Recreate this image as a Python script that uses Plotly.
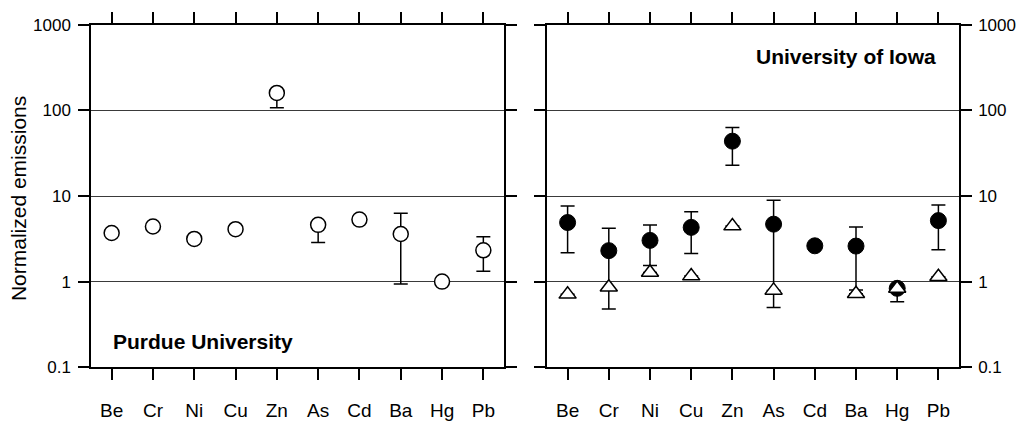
import numpy as np
import plotly.graph_objects as go

elements = ["Be", "Cr", "Ni", "Cu", "Zn", "As", "Cd", "Ba", "Hg", "Pb"]

# Purdue University (open circles)
purdue_val = [3.7, 4.4, 3.15, 4.1, 160, 4.6, 5.3, 3.6, 1.0, 2.32]
purdue_hi = [None, None, None, None, None, None, None, 6.3, None, 3.35]
purdue_lo = [None, None, None, None, 107, 2.87, None, 0.94, None, 1.32]

# University of Iowa (filled circles)
iowa_c_val = [4.9, 2.3, 3.03, 4.3, 43.7, 4.69, 2.62, 2.6, 0.835, 5.16]
iowa_c_hi = [7.65, 4.2, 4.57, 6.56, 63, 8.93, None, 4.34, None, 7.85]
iowa_c_lo = [2.17, None, 1.54, 2.13, 22.8, 0.50, None, 0.80, 0.58, 2.36]

# University of Iowa (open triangles)
iowa_t_val = [0.71, 0.86, 1.28, 1.16, 4.45, 0.79, None, 0.72, 0.83, 1.14]
iowa_t_hi = [None, 2.3, None, None, None, None, None, None, None, None]
iowa_t_lo = [None, 0.48, None, None, None, None, None, None, None, None]

ytick_vals = [0.1, 1, 10, 100, 1000]
ytick_text = ["0.1", "1", "10", "100", "1000"]


def errs(val, hi, lo, hide_empty):
    plus, minus = [], []
    for v, h, l in zip(val, hi, lo):
        if v is None or (hide_empty and h is None and l is None):
            plus.append(np.nan)
            minus.append(np.nan)
            continue
        plus.append(0.0 if h is None else h - v)
        minus.append(0.0 if l is None else v - l)
    return plus, minus


def yv(val):
    return [np.nan if v is None else v for v in val]


FONT = "Liberation Sans, Arial, Helvetica, sans-serif"
fig = go.Figure()

p_plus, p_minus = errs(purdue_val, purdue_hi, purdue_lo, False)
fig.add_trace(go.Scatter(
    x=elements, y=yv(purdue_val), mode="markers", xaxis="x", yaxis="y",
    marker=dict(symbol="circle", size=15, color="white",
                line=dict(color="black", width=1.5)),
    error_y=dict(type="data", symmetric=False, array=p_plus, arrayminus=p_minus,
                 color="black", thickness=1.5, width=7),
    showlegend=False))

c_plus, c_minus = errs(iowa_c_val, iowa_c_hi, iowa_c_lo, False)
fig.add_trace(go.Scatter(
    x=elements, y=yv(iowa_c_val), mode="markers", xaxis="x2", yaxis="y2",
    marker=dict(symbol="circle", size=16, color="black",
                line=dict(color="black", width=1)),
    error_y=dict(type="data", symmetric=False, array=c_plus, arrayminus=c_minus,
                 color="black", thickness=1.5, width=7),
    showlegend=False))

t_plus, t_minus = errs(iowa_t_val, iowa_t_hi, iowa_t_lo, True)
fig.add_trace(go.Scatter(
    x=elements, y=yv(iowa_t_val), mode="markers", xaxis="x2", yaxis="y2",
    marker=dict(symbol="triangle-up", size=15, color="white",
                line=dict(color="black", width=1.5)),
    error_y=dict(type="data", symmetric=False, array=t_plus, arrayminus=t_minus,
                 color="black", thickness=1.5, width=7),
    showlegend=False))

W, H = 1028, 425
ydom = [1 - 375 / H, 1 - 16.5 / H]

xcommon = dict(type="category", categoryorder="array", categoryarray=elements,
               range=[-0.5, 9.5], showline=True, linecolor="black", linewidth=1.5,
               mirror="ticks", ticks="outside", ticklen=11, tickwidth=1.5,
               tickcolor="black", showgrid=False, zeroline=False,
               ticklabelstandoff=14,
               tickfont=dict(family=FONT, size=19, color="black"))
ycommon = dict(type="log", range=[-1, 3], tickvals=ytick_vals, ticktext=ytick_text,
               showline=True, linecolor="black", linewidth=1.5, mirror="ticks",
               ticks="outside", ticklen=11, tickwidth=1.5, tickcolor="black",
               showgrid=True, gridcolor="#3a3a3a", gridwidth=1, zeroline=False,
               tickfont=dict(family=FONT, size=17, color="black"))

fig.update_layout(
    width=W, height=H, margin=dict(l=0, r=0, t=0, b=0),
    paper_bgcolor="white", plot_bgcolor="white",
    xaxis=dict(domain=[91 / W, 504 / W], anchor="y", **xcommon),
    yaxis=dict(domain=ydom, anchor="x", side="left", ticklabelstandoff=4, **ycommon),
    xaxis2=dict(domain=[547 / W, 959 / W], anchor="y2", **xcommon),
    yaxis2=dict(domain=ydom, anchor="x2", side="right", ticklabelstandoff=3, **ycommon),
    annotations=[
        dict(text="Normalized emissions", xref="paper", yref="paper",
             x=18 / W, y=1 - 199 / H, xanchor="center", yanchor="middle",
             textangle=-90, showarrow=False,
             font=dict(family=FONT, size=21, color="black")),
        dict(text="<b>Purdue University</b>", xref="paper", yref="paper",
             x=111 / W, y=1 - 348 / H, xanchor="left", yanchor="middle",
             showarrow=False, font=dict(family=FONT, size=21, color="black")),
        dict(text="<b>University of Iowa</b>", xref="paper", yref="paper",
             x=938 / W, y=1 - 50 / H, xanchor="right", yanchor="middle",
             showarrow=False, font=dict(family=FONT, size=21, color="black")),
    ],
)

fig.write_html("out.html")
